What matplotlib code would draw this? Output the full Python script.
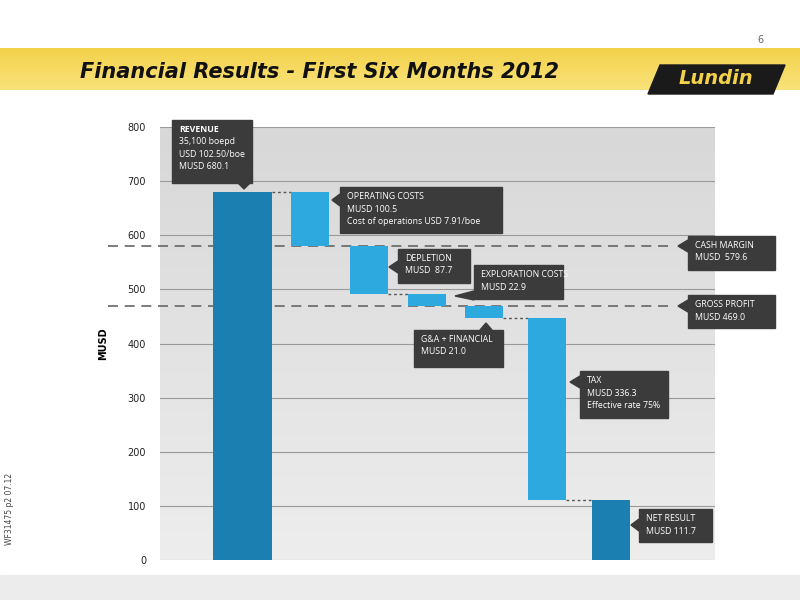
import matplotlib
matplotlib.use("Agg")
import matplotlib.pyplot as plt
import numpy as np
from matplotlib.patches import Rectangle, Polygon

categories = ["Revenue", "Operating costs", "Depletion", "Exploration costs", "G&A + Financial", "Tax", "Net result"]
bottoms = [0, 579.6, 491.9, 469.0, 448.0, 111.7, 0]
tops = [680.1, 680.1, 579.6, 491.9, 469.0, 448.0, 111.7]
cash_margin = 579.6
gross_profit = 469.0
yticks = [0, 100, 200, 300, 400, 500, 600, 700, 800]

xpos = [82, 150, 209, 267, 324, 387, 451]
widths = [59, 38, 38, 38, 38, 38, 38]
colors = ["#1b7fb1", "#2ea9e0", "#2ea9e0", "#2ea9e0", "#2ea9e0", "#2ea9e0", "#1b7fb1"]

fig = plt.figure(figsize=(8, 6), dpi=100)
fig.patch.set_facecolor("white")

def fx(px): return px / 800
def fy(py): return 1 - py / 600

fig.patches.append(Rectangle((0, 0), 1, fy(575), transform=fig.transFigure, color="#ececec", zorder=0))
grad = np.linspace(0, 1, 50).reshape(-1, 1)
bax = fig.add_axes([0, fy(90), 1, fy(48) - fy(90)])
bax.imshow(grad, aspect="auto", cmap=matplotlib.colors.LinearSegmentedColormap.from_list("y", ["#f3d24a", "#f9e27a"]), extent=[0, 1, 0, 1])
bax.axis("off")
fig.text(fx(80), fy(72), "Financial Results - First Six Months 2012", fontsize=15, fontweight="bold",
         fontstyle="italic", family="Liberation Sans Narrow", color="#111111", va="center", ha="left")
fig.text(fx(760), fy(40), "6", fontsize=7, color="#666666", ha="center", va="center")
fig.patches.append(Polygon([(fx(648), fy(94)), (fx(660), fy(65)), (fx(785), fy(65)), (fx(773), fy(94))],
                           closed=True, transform=fig.transFigure, color="#1a1a1a", zorder=3))
fig.text(fx(716), fy(79), "Lundin", fontsize=14, fontweight="bold", fontstyle="italic", color="#f3d24a",
         ha="center", va="center", zorder=4)
fig.text(fx(10), fy(545), "WF31475 p2 07.12", fontsize=5.5, rotation=90, color="#444444", ha="center", va="bottom")

ax = fig.add_axes([fx(160), fy(560), fx(715) - fx(160), fy(127) - fy(560)])
ax.imshow(np.linspace(0, 1, 100).reshape(-1, 1), aspect="auto",
          cmap=matplotlib.colors.LinearSegmentedColormap.from_list("g", ["#d8d8d8", "#ededed"]),
          extent=[0, 555, 0, 800], origin="upper", zorder=0)
ax.set_xlim(0, 555)
ax.set_ylim(0, 800)
for s in ax.spines.values():
    s.set_visible(False)
ax.set_xticks([])
ax.set_yticks(yticks)
ax.tick_params(axis="y", length=0, labelsize=7, pad=10, colors="#222222")
for t in yticks:
    ax.axhline(t, color="#9a9a9a", lw=0.8, zorder=1)
ax.set_ylabel("MUSD", fontsize=7, fontweight="bold", labelpad=14)

for x, b, t, w, c in zip(xpos, bottoms, tops, widths, colors):
    ax.bar(x, t - b, bottom=b, width=w, color=c, zorder=3)

conn = [(0, 1, tops[0]), (2, 3, tops[3]), (4, 5, tops[5]), (5, 6, tops[6])]
for i, j, v in conn:
    ax.plot([xpos[i] + widths[i] / 2, xpos[j] - widths[j] / 2], [v, v], ls=(0, (2, 2)), color="#555555", lw=1, zorder=2)

for v in [cash_margin, gross_profit]:
    ax.plot([-52, 508], [v, v], ls=(0, (6, 4)), color="#666666", lw=1.2, zorder=2, clip_on=False)

box_c = "#3b3b3b"
def callout(x0, y0, x1, y1, tip, lines):
    fig.patches.append(Rectangle((fx(x0), fy(y1)), fx(x1) - fx(x0), fy(y0) - fy(y1), transform=fig.transFigure,
                                 color=box_c, zorder=5))
    fig.patches.append(Polygon([(fx(a), fy(b)) for a, b in tip], closed=True, transform=fig.transFigure,
                               color=box_c, zorder=5))
    for k, ln in enumerate(lines):
        fig.text(fx(x0 + 7), fy(y0 + 5 + k * 12.5), ln, fontsize=6.3, color="white", ha="left", va="top",
                 family="Open Sans", fontweight="bold" if k == 0 and len(lines) > 3 else "normal", zorder=6)

callout(172, 120, 252, 183, [(238, 183), (250, 183), (244, 189)], ["REVENUE", "35,100 boepd", "USD 102.50/boe", "MUSD 680.1"])
callout(340, 187, 502, 233, [(340, 194), (340, 206), (332, 200)], ["OPERATING COSTS", "MUSD 100.5", "Cost of operations USD 7.91/boe"])
callout(398, 249, 470, 283, [(398, 261), (398, 273), (389, 267)], ["DEPLETION", "MUSD  87.7"])
callout(474, 265, 563, 299, [(474, 291), (474, 300), (455, 296)], ["EXPLORATION COSTS", "MUSD 22.9"])
callout(414, 330, 503, 367, [(480, 330), (492, 330), (486, 323)], ["G&A + FINANCIAL", "MUSD 21.0"])
callout(580, 371, 668, 418, [(580, 376), (580, 388), (570, 382)], ["TAX", "MUSD 336.3", "Effective rate 75%"])
callout(688, 236, 775, 270, [(688, 240), (688, 252), (678, 246)], ["CASH MARGIN", "MUSD  579.6"])
callout(688, 295, 775, 328, [(688, 300), (688, 312), (678, 306)], ["GROSS PROFIT", "MUSD 469.0"])
callout(639, 509, 712, 542, [(639, 519), (639, 531), (631, 525)], ["NET RESULT", "MUSD 111.7"])

fig.savefig("out.png", dpi=100)
